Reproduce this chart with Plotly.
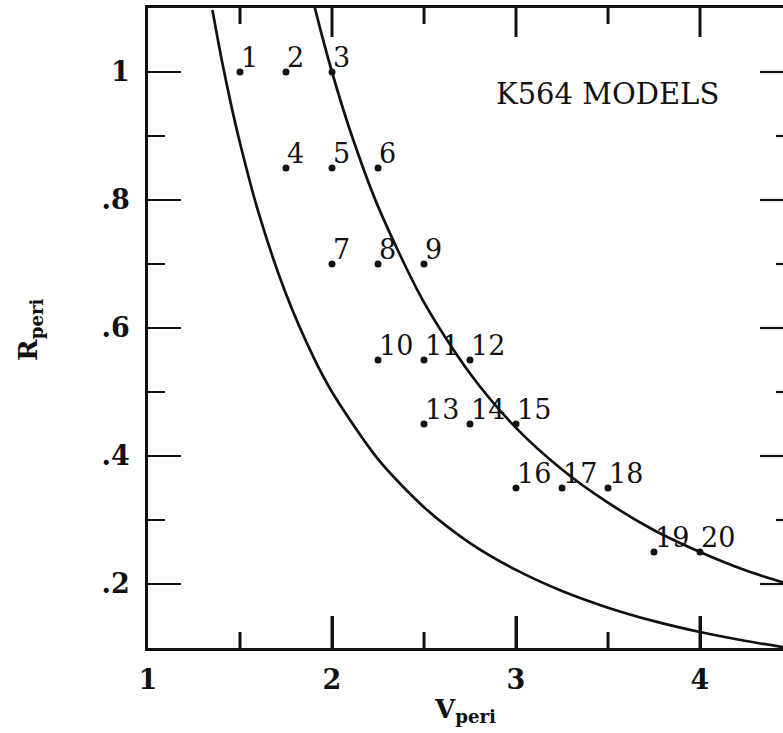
import plotly.graph_objects as go

# Model grid: pericentre velocity and radius for each K564 run
model_id = [str(i) for i in range(1, 21)]
v_peri = [1.5, 1.75, 2.0,
          1.75, 2.0, 2.25,
          2.0, 2.25, 2.5,
          2.25, 2.5, 2.75,
          2.5, 2.75, 3.0,
          3.0, 3.25, 3.5,
          3.75, 4.0]
r_peri = [1.0, 1.0, 1.0,
          0.85, 0.85, 0.85,
          0.7, 0.7, 0.7,
          0.55, 0.55, 0.55,
          0.45, 0.45, 0.45,
          0.35, 0.35, 0.35,
          0.25, 0.25]

# Boundary curves (lower and upper)
inner_v = [1.35, 1.4, 1.45, 1.5, 1.6, 1.75, 1.9, 2.0, 2.25, 2.5, 2.75, 3.0, 3.25, 3.5, 3.75, 4.0, 4.25, 4.5]
inner_r = [1.097, 1.02, 0.951, 0.889, 0.781, 0.653, 0.554, 0.50, 0.395, 0.32, 0.264, 0.222,
           0.189, 0.163, 0.142, 0.125, 0.111, 0.099]
outer_v = [1.9, 1.95, 2.0, 2.1, 2.25, 2.5, 2.75, 3.0, 3.25, 3.5, 3.75, 4.0, 4.25, 4.5]
outer_r = [1.108, 1.052, 1.0, 0.907, 0.79, 0.64, 0.529, 0.444, 0.379, 0.327, 0.284, 0.25, 0.221, 0.198]

x_ticks = [1, 2, 3, 4]
x_ticktext = ["1", "2", "3", "4"]
x_minor = [1.5, 2.5, 3.5]
y_ticks = [0.2, 0.4, 0.6, 0.8, 1.0]
y_ticktext = [".2", ".4", ".6", ".8", "1"]
y_minor = [0.3, 0.5, 0.7, 0.9]

X_RANGE = [1.0, 4.451]
Y_RANGE = [0.1, 1.1]
SERIF = "DejaVu Serif"
INK = "#111111"
PLOT_W = 783 - 148
PLOT_H = 733 - 8 - 85
Y_PER_PX = (Y_RANGE[1] - Y_RANGE[0]) / PLOT_H

fig = go.Figure()

for vv, rr in ((inner_v, inner_r), (outer_v, outer_r)):
    fig.add_trace(go.Scatter(
        x=vv, y=rr, mode="lines",
        line=dict(color=INK, width=2.7, shape="spline", smoothing=0.8),
        hoverinfo="skip", showlegend=False,
    ))

# Tick marks on the top and bottom frames, as line segments in data space
tk_x, tk_y = [], []
for xv in x_ticks[1:] + x_minor:
    major = xv in x_ticks
    top_len = 29 if major else 16
    bot_len = 32 if major else 16
    tk_x += [xv, xv, None, xv, xv, None]
    tk_y += [Y_RANGE[1], Y_RANGE[1] - top_len * Y_PER_PX, None,
             Y_RANGE[0], Y_RANGE[0] + bot_len * Y_PER_PX, None]
fig.add_trace(go.Scatter(
    x=tk_x, y=tk_y, mode="lines", connectgaps=False,
    line=dict(color=INK, width=3),
    hoverinfo="skip", showlegend=False, cliponaxis=False,
))

fig.add_trace(go.Scatter(
    x=v_peri, y=r_peri, mode="markers",
    marker=dict(color=INK, size=7),
    text=model_id, showlegend=False,
))

for lab, vx, ry in zip(model_id, v_peri, r_peri):
    fig.add_annotation(
        x=vx, y=ry, text=lab, showarrow=False,
        xanchor="left", yanchor="bottom", xshift=-1, yshift=-3,
        font=dict(family=SERIF, size=27, color=INK),
    )

fig.add_annotation(
    x=0.723, y=0.866, xref="paper", yref="paper", text="K564 MODELS",
    showarrow=False, xanchor="center", yanchor="middle",
    font=dict(family=SERIF, size=29, color=INK),
)

# Vertical axis title
fig.add_annotation(
    x=(30 - 148) / PLOT_W, y=0.497, xref="paper", yref="paper",
    text="R<sub>peri</sub>", textangle=-90, showarrow=False,
    xanchor="center", yanchor="middle",
    font=dict(family=SERIF, size=26, color=INK, weight="bold"),
)

tick_line = dict(color=INK, width=2.2)

# Ticks along the right-hand frame
for yv in y_ticks:
    fig.add_shape(type="line", xref="paper", yref="y",
                  x0=1 - 23 / PLOT_W, x1=1, y0=yv, y1=yv, line=tick_line)
for yv in y_minor:
    fig.add_shape(type="line", xref="paper", yref="y",
                  x0=1 - 7 / PLOT_W, x1=1, y0=yv, y1=yv, line=tick_line)

fig.update_xaxes(
    range=X_RANGE, showgrid=False, zeroline=False,
    showline=True, linecolor=INK, linewidth=2.8, mirror=True,
    ticks="inside", ticklen=32, tickwidth=3, tickcolor=INK,
    tickvals=x_ticks, ticktext=x_ticktext,
    tickfont=dict(family=SERIF, size=27, color=INK, weight="bold"),
    ticklabelstandoff=6,
    title=dict(text="V<sub>peri</sub>", standoff=6,
               font=dict(family=SERIF, size=26, color=INK, weight="bold")),
)
fig.update_yaxes(
    range=Y_RANGE, showgrid=False, zeroline=False,
    showline=True, linecolor=INK, linewidth=2.8, mirror=False,
    ticks="inside", ticklen=33, tickwidth=2.2, tickcolor=INK,
    tickvals=y_ticks, ticktext=y_ticktext,
    tickfont=dict(family=SERIF, size=27, color=INK, weight="bold"),
    ticklabelstandoff=10,
    minor=dict(ticks="inside", ticklen=17, tickwidth=2.2, tickcolor=INK,
               dtick=0.1, tick0=0.0, showgrid=False),
)

fig.update_layout(
    width=783, height=733,
    margin=dict(l=148, r=0, t=8, b=85),
    paper_bgcolor="white", plot_bgcolor="white",
    showlegend=False,
)

fig.write_html("out.html")
